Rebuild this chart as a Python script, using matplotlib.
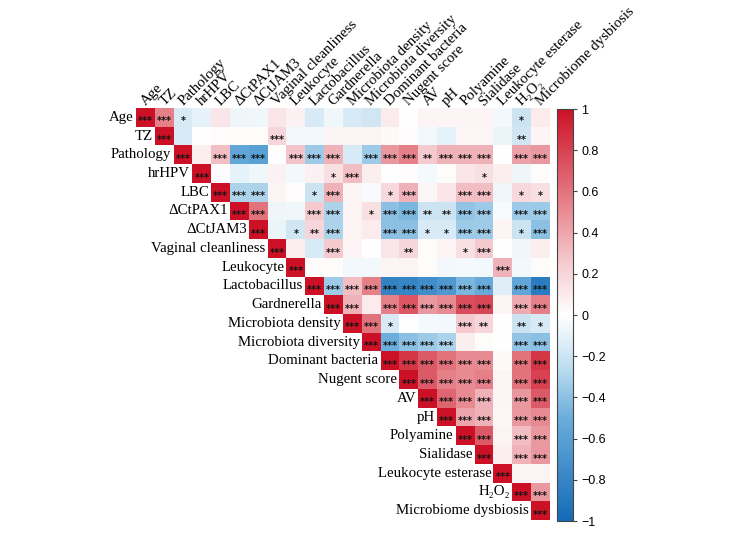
import numpy as np
import matplotlib
matplotlib.use("Agg")
import matplotlib.pyplot as plt
from matplotlib.colors import LinearSegmentedColormap

labels = ["Age", "TZ", "Pathology", "hrHPV", "LBC", "ΔCtPAX1", "ΔCtJAM3",
          "Vaginal cleanliness", "Leukocyte", "Lactobacillus", "Gardnerella",
          "Microbiota density", "Microbiota diversity", "Dominant bacteria",
          "Nugent score", "AV", "pH", "Polyamine", "Sialidase",
          "Leukocyte esterase", "H₂O₂", "Microbiome dysbiosis"]

# upper-triangle correlation values, each row starting at the diagonal
r_age = [1, 0.55, -0.15, -0.1, 0.12, -0.07, -0.06, 0.12, 0.07, -0.15, -0.06, -0.15, -0.18, 0.1, 0.0, 0.05, 0.05, 0.05, 0.05, -0.05, -0.2, 0.1]
r_tz = [1, -0.15, 0.0, 0.02, 0.02, 0.02, 0.2, -0.05, -0.05, 0.05, 0.06, 0.06, 0.03, 0.01, -0.05, -0.1, 0.04, 0.04, -0.08, -0.18, 0.05]
r_path = [1, 0.08, 0.3, -0.55, -0.6, 0.0, 0.28, -0.35, 0.35, -0.15, -0.35, 0.45, 0.55, 0.25, 0.35, 0.35, 0.35, 0.0, 0.42, 0.45]
r_hpv = [1, 0.01, -0.1, -0.06, 0.07, -0.05, 0.07, 0.15, 0.3, 0.08, 0.0, 0.01, -0.04, 0.02, 0.12, 0.15, 0.08, -0.07, 0.02]
r_lbc = [1, -0.3, -0.3, 0.05, 0.01, -0.2, 0.35, 0.05, -0.03, 0.18, 0.35, 0.04, 0.12, 0.3, 0.3, -0.06, 0.18, 0.15]
r_pax1 = [1, 0.6, -0.07, -0.06, 0.25, -0.3, 0.06, 0.15, -0.4, -0.45, -0.2, -0.2, -0.38, -0.35, -0.03, -0.35, -0.35]
r_jam3 = [1, -0.08, -0.18, 0.2, -0.3, 0.06, 0.1, -0.4, -0.4, -0.15, -0.15, -0.35, -0.35, 0.05, -0.2, -0.4]
r_vc = [1, 0.08, -0.15, 0.25, 0.06, 0.0, 0.12, 0.2, 0.02, 0.06, 0.15, 0.25, 0.0, -0.06, 0.08]
r_leuk = [1, 0.02, 0.02, -0.05, -0.05, 0.05, 0.06, 0.02, -0.05, -0.04, -0.05, 0.35, -0.05, 0.02]
r_lacto = [1, -0.35, 0.3, 0.55, -0.82, -0.8, -0.74, -0.66, -0.45, -0.52, -0.12, -0.55, -0.87]
r_gard = [1, 0.35, 0.1, 0.55, 0.72, 0.45, 0.5, 0.75, 0.78, 0.05, 0.38, 0.55]
r_dens = [1, 0.6, -0.15, 0.0, -0.04, -0.05, 0.25, 0.2, 0.0, -0.2, -0.15]
r_div = [1, -0.5, -0.4, -0.35, -0.3, 0.08, 0.02, 0.0, -0.38, -0.4]
r_dom = [1, 0.85, 0.7, 0.6, 0.5, 0.5, 0.03, 0.6, 0.85]
r_nug = [1, 0.7, 0.55, 0.5, 0.55, 0.05, 0.6, 0.8]
r_av = [1, 0.65, 0.5, 0.35, 0.05, 0.45, 0.7]
r_ph = [1, 0.4, 0.35, 0.04, 0.45, 0.5]
r_poly = [1, 0.7, 0.06, 0.3, 0.45]
r_sial = [1, 0.08, 0.35, 0.45]
r_le = [1, 0.06, 0.06]
r_h2o2 = [1, 0.45]
r_dys = [1]

# number of significance stars per cell, same layout as above
s_rows = ["3310000000000000000010", "300000300000000000020", "30333033303332333033",
          "3000000130000001000", "333001300130033011", "33003301332233033",
          "3012300331133013", "300300020013000", "30000000000300",
          "3333333333033", "330333333033", "33100032021", "3333300033",
          "333333033", "33333033", "3333033", "333033", "33033", "3033",
          "300", "33", "3"]

rows = [r_age, r_tz, r_path, r_hpv, r_lbc, r_pax1, r_jam3, r_vc, r_leuk, r_lacto,
        r_gard, r_dens, r_div, r_dom, r_nug, r_av, r_ph, r_poly, r_sial, r_le,
        r_h2o2, r_dys]

n = len(labels)
M = np.full((n, n), np.nan)
for i, r in enumerate(rows):
    M[i, i:] = r
Mm = np.ma.masked_invalid(M)

cmap = LinearSegmentedColormap.from_list("rb", [
    (0.0, (0.08, 0.42, 0.72)),
    (0.25, (0.42, 0.68, 0.86)),
    (0.375, (0.75, 0.87, 0.94)),
    (0.5, (1.0, 1.0, 1.0)),
    (0.625, (0.96, 0.80, 0.82)),
    (0.75, (0.91, 0.55, 0.58)),
    (1.0, (0.80, 0.07, 0.15)),
])

W, H = 753, 534
fig = plt.figure(figsize=(W / 100, H / 100), dpi=100)
ax = fig.add_axes([136 / W, 1 - 520 / H, 414 / W, 412 / H])
im = ax.imshow(Mm, cmap=cmap, vmin=-1, vmax=1, aspect="auto", interpolation="nearest")
ax.set_xlim(-0.5, n - 0.5)
ax.set_ylim(n - 0.5, -0.5)
ax.axis("off")

serif = ["Liberation Serif", "DejaVu Serif"]
for i in range(n):
    ax.text(i - 0.62, i, labels[i], ha="right", va="center", fontsize=10.7,
            family=serif)
    ax.text(i + 0.0, -0.6, labels[i], ha="left", va="baseline", rotation=45,
            rotation_mode="anchor", fontsize=10.7, family=serif)

for i, s in enumerate(s_rows):
    for k, ch in enumerate(s):
        c = int(ch)
        if c:
            ax.text(i + k, i + 0.22, "*" * c, ha="center", va="center",
                    fontsize=7, fontweight="bold", family="DejaVu Sans",
                    color="#111111")

cax = fig.add_axes([557 / W, 1 - 521 / H, 16 / W, 412 / H])
cb = fig.colorbar(im, cax=cax, ticks=np.linspace(-1, 1, 11))
cb.ax.set_yticklabels(["−1", "−0.8", "−0.6", "−0.4", "−0.2", "0", "0.2", "0.4", "0.6", "0.8", "1"])
cb.ax.tick_params(labelsize=9, length=3, width=0.8, color="#444444", pad=3)
for t in cb.ax.get_yticklabels():
    t.set_family("Liberation Sans")
cb.outline.set_edgecolor("#444444")
cb.outline.set_linewidth(0.8)

fig.savefig("out.png", dpi=100)
